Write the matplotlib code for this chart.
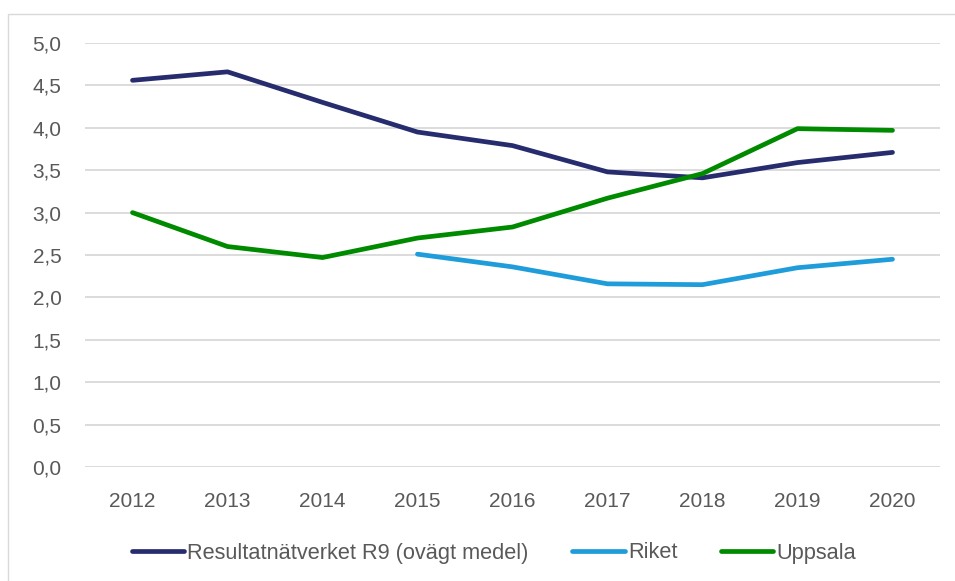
import matplotlib.pyplot as plt
from matplotlib.patches import Rectangle

plt.rcParams['font.family'] = ['Liberation Sans', 'DejaVu Sans']

years = ['2012', '2013', '2014', '2015', '2016', '2017', '2018', '2019', '2020']
r9 = [4.56, 4.66, 4.30, 3.95, 3.79, 3.48, 3.41, 3.59, 3.71]
riket = [None, None, None, 2.51, 2.36, 2.16, 2.15, 2.35, 2.45]
uppsala = [3.00, 2.60, 2.47, 2.70, 2.83, 3.17, 3.46, 3.99, 3.97]
yticks = [0, 0.5, 1.0, 1.5, 2.0, 2.5, 3.0, 3.5, 4.0, 4.5, 5.0]

W, H = 955, 581
fig = plt.figure(figsize=(W / 100, H / 100), dpi=100)
fig.patches.append(Rectangle((8 / W, -0.05), 1.1, 1 - 14 / H + 0.05,
                             transform=fig.transFigure, fill=False,
                             edgecolor='#D9D9D9', linewidth=1.0))

ax = fig.add_axes([85 / W, 1 - 467 / H, 855 / W, 424 / H])
x = list(range(len(years)))
rx = [i for i, v in zip(x, riket) if v is not None]
rv = [v for v in riket if v is not None]

kw = dict(linewidth=3.4, solid_capstyle='round', solid_joinstyle='round', clip_on=False)
ax.plot(x, r9, color='#262C6E', label='Resultatnätverket R9 (ovägt medel)', **kw)
ax.plot(rx, rv, color='#1F9CDA', label='Riket', **kw)
ax.plot(x, uppsala, color='#008A00', label='Uppsala', **kw)

ax.set_xlim(-0.5, len(years) - 0.5)
ax.set_ylim(0, 5)
ax.set_yticks(yticks)
ax.set_yticklabels([f'{v:.1f}'.replace('.', ',') for v in yticks])
ax.set_xticks(x)
ax.set_xticklabels(years)
ax.yaxis.grid(True, color='#D9D9D9', linewidth=1.3)
ax.set_axisbelow(True)
for s in ax.spines.values():
    s.set_visible(False)
ax.tick_params(length=0, labelsize=15, colors='#595959')
ax.tick_params(axis='y', pad=17)
ax.tick_params(axis='x', pad=18)

fig.legend(loc='center', bbox_to_anchor=(494 / W, 1 - 553 / H), ncol=3,
           frameon=False, fontsize=15.7, labelcolor='#595959',
           handlelength=2.4, handletextpad=0.15, columnspacing=2.0)

fig.savefig('out.png', dpi=100, facecolor='white')
